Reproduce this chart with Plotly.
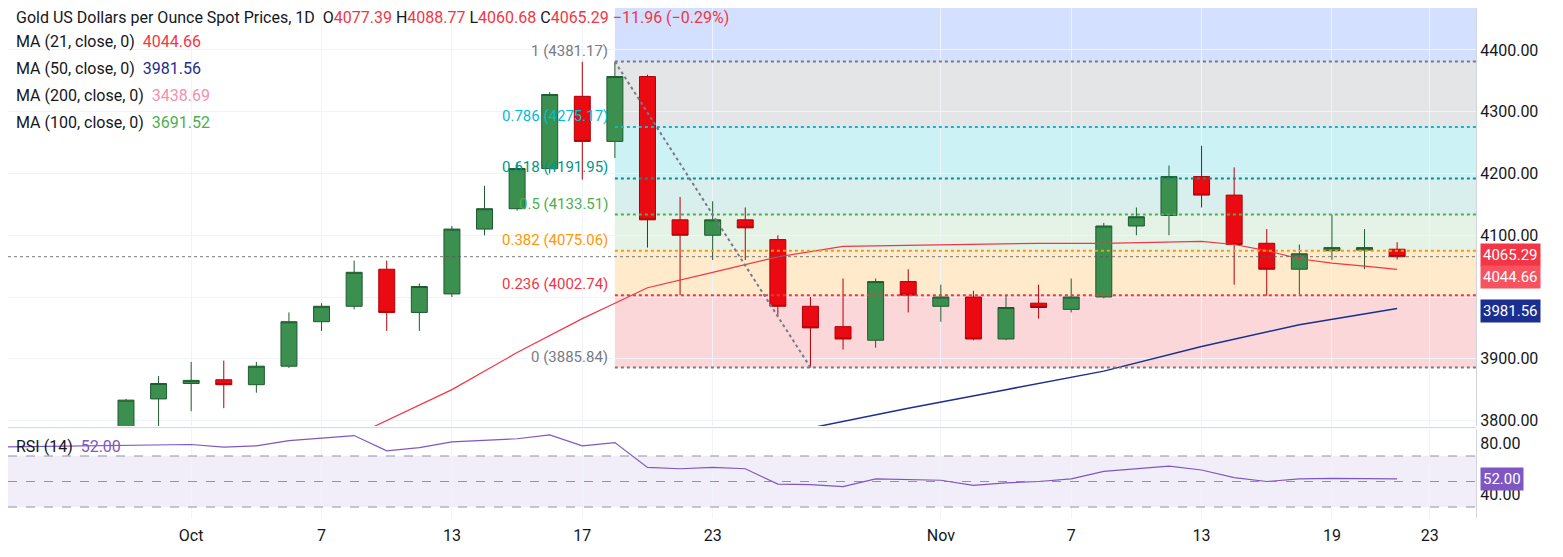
import plotly.graph_objects as go

dates = ["Sep 29","Sep 30","Oct 1","Oct 2","Oct 3","Oct 6","Oct 7","Oct 8","Oct 9","Oct 10",
         "Oct 13","Oct 14","Oct 15","Oct 16","Oct 17","Oct 20","Oct 21","Oct 22","Oct 23","Oct 24",
         "Oct 27","Oct 28","Oct 29","Oct 30","Oct 31","Nov 3","Nov 4","Nov 5","Nov 6","Nov 7",
         "Nov 10","Nov 11","Nov 12","Nov 13","Nov 14","Nov 17","Nov 18","Nov 19","Nov 20","Nov 21"]
opens  = [3780,3835,3860,3866,3858,3888,3960,3985,4045,3975,4005,4110,4143,4208,4325,4252,4357,4125,4100,4125,
          4093,3985,3952,3930,4025,3985,4000,3932,3990,3980,4000,4115,4132,4195,4165,4087,4045,4075,4076,4077.39]
highs  = [3835,3872,3895,3897,3895,3975,3990,4059,4059,4022,4115,4180,4218,4332,4381,4381,4360,4162,4155,4145,
          4100,4000,4030,4030,4045,4020,4010,4003,4020,4030,4120,4145,4213,4245,4210,4110,4085,4133,4110,4088.77]
lows   = [3770,3790,3815,3820,3845,3885,3945,3980,3945,3945,4000,4100,4140,4200,4190,4225,4080,4003,4060,4060,
          3970,3886,3915,3918,3975,3960,3930,3930,3965,3975,3998,4100,4100,4145,4020,4002,4004,4060,4045,4060.68]
closes = [3833,3860,3865,3858,3888,3960,3985,4040,3975,4017,4110,4143,4208,4328,4252,4357,4125,4100,4125,4112,
          3985,3950,3932,4025,4003,4000,3932,3983,3983,4000,4115,4130,4195,4165,4085,4045,4070,4080,4080,4065.29]
ma21_idx = [7.6,10,12,14,15,16,18,20,22,25,28,30,31,32,33,34,35,36,37,38,39]
ma21 = [3790,3850,3910,3965,3990,4015,4040,4065,4082,4085,4087,4087,4088,4090,4090,4085,4075,4062,4055,4050,4044.66]
ma50_idx = [21.2,24,27,30,33,36,39]
ma50 = [3790,3820,3850,3880,3920,3955,3981.56]
rsi = [78,78.5,79,77,78,82,84,86,74,76.5,81,82,83.5,86.5,78,80.5,61,60,61,60,
       48,47.5,46,52,51.5,51,47,49,50,52,58,60,62,59,53,50,52,52.5,52.5,52]
fib_ratios = [1,0.786,0.618,0.5,0.382,0.236,0]
fib_hi, fib_lo = 4381.17, 3885.84
fib_line_cols = ["#787b86","#00bcd4","#009688","#4caf50","#ff9800","#f23645","#787b86"]
fib_fill = ["rgba(41,98,255,0.2)","rgba(120,123,134,0.2)","rgba(0,188,212,0.2)","rgba(0,150,136,0.15)",
            "rgba(76,175,80,0.15)","rgba(255,152,0,0.2)","rgba(242,54,69,0.2)"]
tick_idx = [2,6,10,14,18,25,29,33,37,40]
tick_txt = ["Oct","7","13","17","23","Nov","7","13","19","23"]
price_ticks = [3800,3900,4000,4100,4200,4300,4400]
price_tick_txt = ["3800.00","3900.00","","4100.00","4200.00","4300.00","4400.00"]

x = list(range(len(dates)))
fig = go.Figure()
fig.add_trace(go.Candlestick(x=x, open=opens, high=highs, low=lows, close=closes,
    increasing=dict(line=dict(color="#1e5c2f", width=1), fillcolor="#3b8f4f"),
    decreasing=dict(line=dict(color="#b00008", width=1), fillcolor="#ec0a12"),
    whiskerwidth=0, xaxis="x", yaxis="y", showlegend=False))
fig.add_trace(go.Scatter(x=ma21_idx, y=ma21, mode="lines", line=dict(color="#f23645", width=1.2), showlegend=False))
fig.add_trace(go.Scatter(x=ma50_idx, y=ma50, mode="lines", line=dict(color="#1a2f8f", width=1.5), showlegend=False))
fig.add_trace(go.Scatter(x=[-4]+x, y=[77]+rsi, mode="lines", line=dict(color="#7e57c2", width=1.2),
    xaxis="x", yaxis="y2", showlegend=False))

shapes = []
x0f, x1f = 15, 42
levels = [fib_lo + r*(fib_hi-fib_lo) for r in fib_ratios]
tops = [4500] + levels[:-1]
for i, lv in enumerate(levels):
    shapes.append(dict(type="rect", xref="x", yref="y", x0=x0f, x1=x1f, y0=lv, y1=tops[i],
                       fillcolor=fib_fill[i], line_width=0, layer="below"))
    shapes.append(dict(type="line", xref="x", yref="y", x0=x0f, x1=x1f, y0=lv, y1=lv,
                       line=dict(color=fib_line_cols[i], width=2, dash="dot")))
shapes.append(dict(type="line", xref="x", yref="y", x0=15, x1=21, y0=fib_hi, y1=fib_lo,
                   line=dict(color="#787b86", width=2, dash="dot")))
shapes.append(dict(type="line", xref="paper", yref="y", x0=0, x1=1, y0=4065.29, y1=4065.29,
                   line=dict(color="#555", width=0.8, dash="dot")))
shapes.append(dict(type="rect", xref="paper", yref="y2", x0=0, x1=1, y0=30, y1=70,
                   fillcolor="rgba(126,87,194,0.1)", line_width=0, layer="below"))
for v in [70, 50, 30]:
    shapes.append(dict(type="line", xref="paper", yref="y2", x0=0, x1=1, y0=v, y1=v,
                       line=dict(color="#787b86", width=0.8, dash="dash")))
shapes.append(dict(type="line", xref="paper", yref="paper", x0=0, x1=1, y0=0.193, y1=0.193,
                   line=dict(color="#d1d4dc", width=1)))

ann = []
for r, lv, c in zip(fib_ratios, levels, fib_line_cols):
    lab = ("%g" % r) + " (%.2f)" % lv
    ann.append(dict(xref="x", yref="y", x=x0f-0.15, y=lv, text=lab, showarrow=False, xanchor="right",
                    yanchor="bottom", font=dict(color=c, size=15)))
R = "#f23645"
ann.append(dict(xref="paper", yref="paper", x=0.004, y=1.003, xanchor="left", yanchor="top", showarrow=False,
    text="Gold US Dollars per Ounce Spot Prices, 1D  O<span style='color:%s'>4077.39</span> H<span style='color:%s'>4088.77</span> L<span style='color:%s'>4060.68</span> C<span style='color:%s'>4065.29 −11.96 (−0.29%%)</span>" % (R,R,R,R),
    font=dict(size=16, color="#131722")))
for i, (t, v, c) in enumerate([("MA (21, close, 0)", "4044.66", "#f23645"), ("MA (50, close, 0)", "3981.56", "#1a2f8f"),
                              ("MA (200, close, 0)", "3438.69", "#f48fb1"), ("MA (100, close, 0)", "3691.52", "#4caf50")]):
    ann.append(dict(xref="paper", yref="paper", x=0.004, y=0.958-i*0.052, xanchor="left", yanchor="top", showarrow=False,
                    text="%s  <span style='color:%s'>%s</span>" % (t, c, v), font=dict(size=16, color="#131722")))
ann.append(dict(xref="paper", yref="paper", x=0.004, y=0.178, xanchor="left", yanchor="top", showarrow=False,
                text="RSI (14)  <span style='color:#7e57c2'>52.00</span>", font=dict(size=16, color="#131722")))
for v, c, ya, ys in [(4065.29, "#f23645", "y", 2), (4044.66, "#f7525f", "y", -8),
                     (3981.56, "#1a2f8f", "y", -3), (52.0, "#7e57c2", "y2", 0)]:
    ann.append(dict(xref="paper", yref=ya, x=1.003, y=v, yshift=ys, xanchor="left", showarrow=False, text="%.2f" % v,
                    bgcolor=c, font=dict(color="white", size=15), borderpad=2))

fig.update_layout(
    width=1563, height=557, margin=dict(l=0, r=95, t=0, b=37),
    paper_bgcolor="white", plot_bgcolor="white", font=dict(family="Roboto, Arial", size=16, color="#131722"),
    xaxis=dict(range=[-3.62, 41.42], tickvals=tick_idx, ticktext=tick_txt, showgrid=True, gridcolor="#f0f3fa",
               rangeslider=dict(visible=False), anchor="y2", ticks="", zeroline=False, ticklabelstandoff=6),
    yaxis=dict(domain=[0.196, 1], range=[3791, 4468], side="right", tickvals=price_ticks,
               ticktext=price_tick_txt,
               showgrid=True, gridcolor="#f0f3fa", zeroline=False, showline=True, linecolor="#d1d4dc"),
    yaxis2=dict(domain=[0.019, 0.19], range=[21.3, 91.0], side="right", tickvals=[40, 80],
                ticktext=["40.00","80.00"], showgrid=False, zeroline=False, showline=True, linecolor="#d1d4dc"),
    shapes=shapes, annotations=ann, showlegend=False)
fig.write_html("out.html")
